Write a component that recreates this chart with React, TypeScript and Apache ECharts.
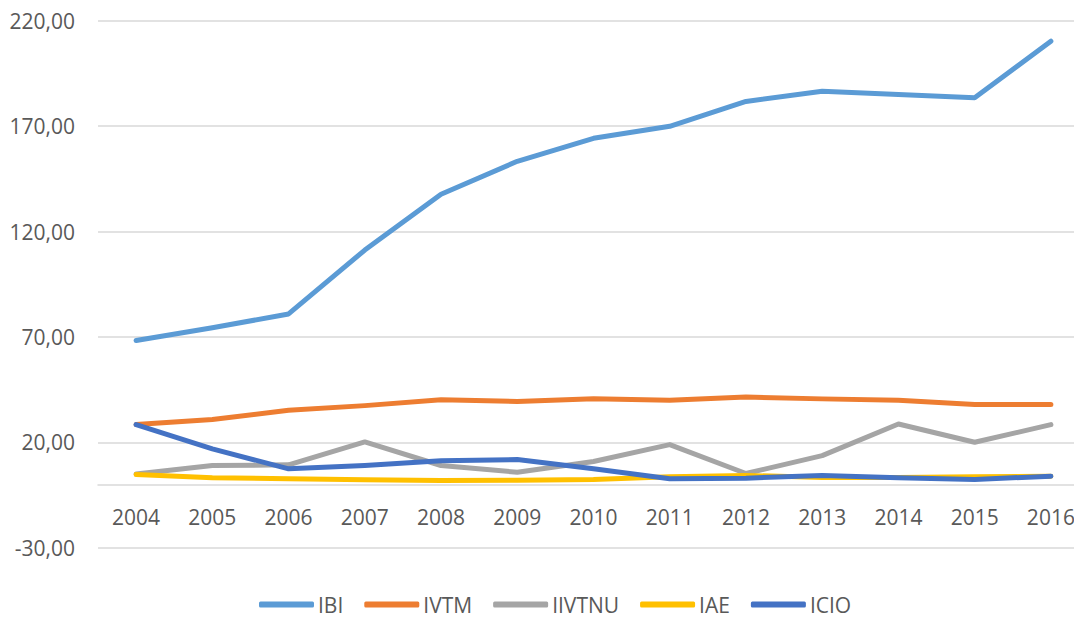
import React, { useEffect, useRef } from "react";
import * as echarts from "echarts";

const years = ["2004", "2005", "2006", "2007", "2008", "2009", "2010", "2011", "2012", "2013", "2014", "2015", "2016"];
const ibi = [68.3, 74.3, 80.9, 111.2, 137.7, 153.3, 164.2, 169.9, 181.7, 186.5, 185.0, 183.4, 210.3];
const ivtm = [28.4, 30.8, 35.2, 37.4, 40.2, 39.4, 40.7, 39.9, 41.5, 40.6, 39.9, 37.9, 37.9];
const iivtnu = [5.0, 9.0, 9.3, 20.2, 9.0, 5.8, 10.9, 18.9, 5.2, 13.7, 28.7, 20.0, 28.4];
const iae = [4.7, 3.2, 2.7, 2.2, 1.9, 2.0, 2.4, 3.6, 4.3, 3.3, 3.3, 3.6, 3.9];
const icio = [28.4, 16.9, 7.4, 9.0, 11.2, 11.8, 7.5, 2.7, 3.0, 4.3, 3.2, 2.4, 3.9];

const seriesNames = ["IBI", "IVTM", "IIVTNU", "IAE", "ICIO"];
const seriesData = [ibi, ivtm, iivtnu, iae, icio];
const seriesColors = ["#5B9BD5", "#ED7D31", "#A5A5A5", "#FFC000", "#4472C4"];

const FONT = "'Open Sans', 'Noto Sans', sans-serif";

export default function App() {
  const ref = useRef<HTMLDivElement>(null);
  useEffect(() => {
    document.body.style.margin = "0";
    document.body.style.overflow = "hidden";
    document.documentElement.style.overflow = "hidden";
    const chart = echarts.init(ref.current!, undefined, { renderer: "svg" });
    chart.setOption({
      animation: false,
      backgroundColor: "#ffffff",
      grid: { left: 98, right: 11, top: 20.7, bottom: 71.3, containLabel: false },
      legend: {
        bottom: -1,
        left: 254,
        itemWidth: 55,
        itemHeight: 6,
        itemGap: 21,
        icon: "roundRect",
        textStyle: { fontFamily: FONT, fontSize: 21, color: "#595959", padding: [0, 0, 0, -1] },
        data: seriesNames,
      },
      xAxis: {
        type: "category",
        data: years,
        boundaryGap: true,
        axisLine: { onZero: true, lineStyle: { color: "#D9D9D9", width: 1.5 } },
        axisTick: { show: false },
        axisLabel: { fontFamily: FONT, fontSize: 21, color: "#595959", margin: -41 },
        splitLine: { show: false },
      },
      yAxis: {
        type: "value",
        min: -30,
        max: 220,
        interval: 50,
        axisLine: { show: false },
        axisTick: { show: false },
        axisLabel: {
          fontFamily: FONT,
          fontSize: 21,
          color: "#595959",
          margin: 23,
          formatter: (v: number) => v.toFixed(2).replace(".", ","),
        },
        splitLine: { lineStyle: { color: "#D9D9D9", width: 1.5 } },
      },
      series: seriesNames.map((name, i) => ({
        name,
        type: "line",
        data: seriesData[i],
        showSymbol: false,
        symbol: "none",
        color: seriesColors[i],
        lineStyle: { width: 5, color: seriesColors[i], cap: "round", join: "round" },
      })),
    });
    return () => chart.dispose();
  }, []);
  return <div ref={ref} style={{ position: "fixed", left: 0, top: 0, width: 1100, height: 619 }} />;
}
